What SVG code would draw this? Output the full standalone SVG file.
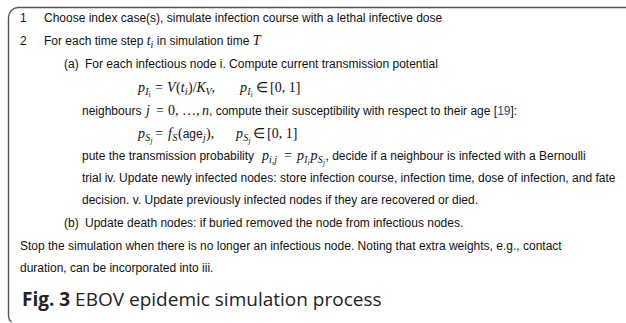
<svg xmlns="http://www.w3.org/2000/svg" width="626" height="323" viewBox="0 0 626 323">
<style>
.t{font-family:"Liberation Sans",Arial,sans-serif;font-style:normal;font-size:12px;fill:#111}
.m{font-family:"Liberation Serif","Times New Roman",serif;font-style:italic;font-size:14px;fill:#111}
.r{font-family:"Liberation Serif","Times New Roman",serif;font-style:normal;font-size:14px;fill:#111}
.s{font-size:10px}
.ss{font-size:7.5px}
.cap{font-family:"Open Sans","Noto Sans",sans-serif;font-size:19px;fill:#222}
.ref{fill:#2b3f9e}
</style>
<rect width="626" height="323" fill="#fff"/>
<g id="frame">
<path d="M626,7.5 H18 A10,10 0 0 0 8.5,17.5 V315 Q8.5,320 11.5,322" fill="none" stroke="#555" stroke-width="1.4"/>
</g>
<g id="step1">
<text class="t" x="20" y="22">1</text>
<text class="t" x="44" y="22">Choose index case(s), simulate infection course with a lethal infective dose</text>
</g>
<g id="step2">
<text class="t" x="20" y="45">2</text>
<text class="t" x="44" y="45">For each time step <tspan class="m">t</tspan><tspan class="m s" dy="2.5">i</tspan><tspan dy="-2.5"> in simulation time </tspan><tspan class="m">T</tspan></text>
</g>
<g id="stepA">
<text class="t" x="64" y="68">(a)</text>
<text class="t" x="85" y="68">For each infectious node i. Compute current transmission potential</text>
<text class="m" y="92"><tspan x="138">p</tspan><tspan class="s" x="145.2" y="95">I</tspan><tspan class="ss" x="148.6" y="97">i</tspan><tspan class="r" x="155" y="92">=</tspan><tspan x="167">V</tspan><tspan class="r" x="176">(</tspan><tspan x="180.7">t</tspan><tspan class="s" x="184.8" y="95">i</tspan><tspan class="r" x="188" y="92">)/</tspan><tspan x="196.6">K</tspan><tspan class="s" x="205.5" y="95">V</tspan><tspan class="r" x="211.6" y="92">,</tspan><tspan x="240">p</tspan><tspan class="s" x="247.2" y="95">I</tspan><tspan class="ss" x="250.6" y="97">i</tspan><tspan class="r" x="256" y="92">∈</tspan><tspan class="r" x="270">[0, 1]</tspan></text>
<text class="t" y="115"><tspan x="82">neighbours</tspan><tspan class="m" x="146">j</tspan><tspan class="r" x="156">=</tspan><tspan class="r" x="168">0,</tspan><tspan class="r" x="182">…,</tspan><tspan class="m" x="202">n</tspan><tspan x="209">, compute their susceptibility with respect to their age [<tspan class="ref">19</tspan>]:</tspan></text>
<text class="m" y="138"><tspan x="138">p</tspan><tspan class="s" x="145.2" y="141">S</tspan><tspan class="ss" x="150.4" y="143">j</tspan><tspan class="r" x="155" y="138">=</tspan><tspan x="168">f</tspan><tspan class="s" x="172.5" y="141">S</tspan><tspan class="r" x="178" y="138">(</tspan><tspan class="t" x="182.7">age</tspan><tspan class="s" x="203" y="141">j</tspan><tspan class="r" x="206" y="138">),</tspan><tspan x="236">p</tspan><tspan class="s" x="243.2" y="141">S</tspan><tspan class="ss" x="248.4" y="143">j</tspan><tspan class="r" x="253" y="138">∈</tspan><tspan class="r" x="267">[0, 1]</tspan></text>
<text class="t" y="160"><tspan x="82">pute the transmission probability</tspan><tspan class="m" x="262">p</tspan><tspan class="m s" x="269" y="163">i,j</tspan><tspan class="r" x="284" y="160">=</tspan><tspan class="m" x="297">p</tspan><tspan class="m s" x="304.2" y="163">I</tspan><tspan class="m ss" x="307.6" y="165">i</tspan><tspan class="m" x="310.5" y="160">p</tspan><tspan class="m s" x="317.7" y="163">S</tspan><tspan class="m ss" x="322.9" y="165">j</tspan><tspan x="325.5" y="160">, decide if a neighbour is infected with a Bernoulli</tspan></text>
<text class="t" x="82" y="182">trial iv. Update newly infected nodes: store infection course, infection time, dose of infection, and fate</text>
<text class="t" x="82" y="204">decision. v. Update previously infected nodes if they are recovered or died.</text>
</g>
<g id="stepB">
<text class="t" x="64" y="227">(b)</text>
<text class="t" x="85" y="227">Update death nodes: if buried removed the node from infectious nodes.</text>
</g>
<g id="stop">
<text class="t" x="20" y="250">Stop the simulation when there is no longer an infectious node. Noting that extra weights, e.g., contact</text>
<text class="t" x="20" y="272">duration, can be incorporated into iii.</text>
</g>
<g id="caption">
<text class="cap" x="22" y="306"><tspan font-weight="700">Fig. 3</tspan> EBOV epidemic simulation process</text>
</g>
</svg>
